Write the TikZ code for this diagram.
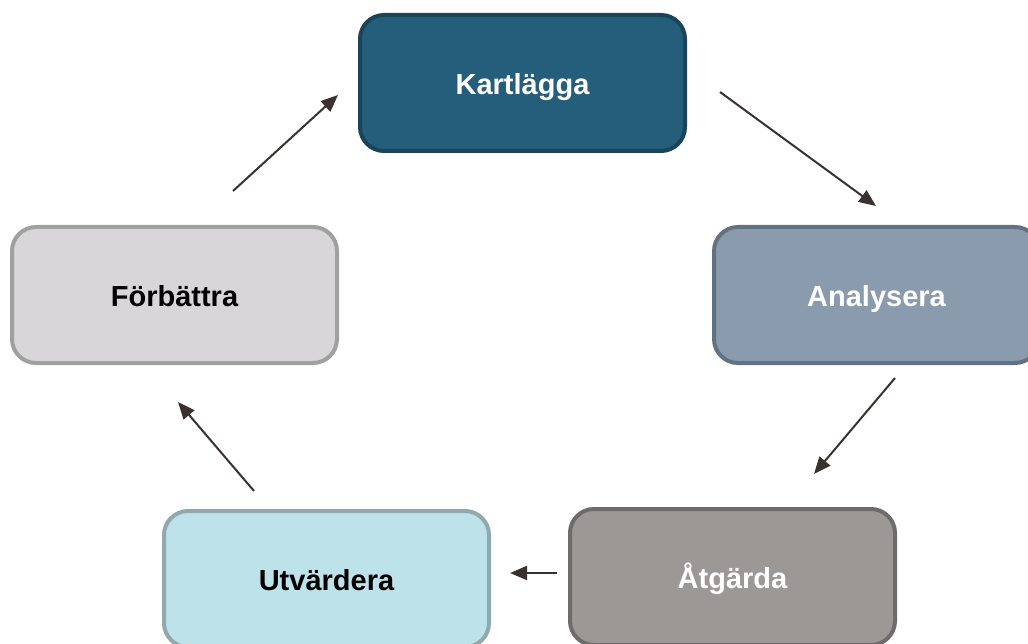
\documentclass[tikz,border=0pt]{standalone}
\usepackage{fontspec}
\setmainfont{Liberation Sans}
\usetikzlibrary{arrows.meta}
\definecolor{kfill}{HTML}{245E7A}
\definecolor{kline}{HTML}{1B4459}
\definecolor{afill}{HTML}{8A9BAD}
\definecolor{aline}{HTML}{637282}
\definecolor{gfill}{HTML}{9C9896}
\definecolor{gline}{HTML}{6F6B6B}
\definecolor{ufill}{HTML}{BEE2EA}
\definecolor{uline}{HTML}{8FA9AE}
\definecolor{ffill}{HTML}{D8D6D8}
\definecolor{fline}{HTML}{A0A0A0}
\definecolor{arrcol}{HTML}{3A3230}
\begin{document}
\begin{tikzpicture}[x=1pt,y=-1pt,
  stepbox/.style={rectangle, rounded corners=24pt, line width=4pt,
    minimum width=325pt, minimum height=136pt, inner sep=0pt,
    text height=23pt, text depth=0pt,
    font=\fontsize{29}{34}\selectfont\bfseries},
  arr/.style={draw=arrcol, line width=2pt, -{Triangle[length=17pt,width=14pt]}}]
\useasboundingbox (0,0) rectangle (1028,644);
\clip (0,0) rectangle (1028,644);
\fill[white] (0,0) rectangle (1028,644);
\node[stepbox, fill=kfill, draw=kline, text=white] (k) at (522.5,83) {Kartlägga};
\node[stepbox, fill=afill, draw=aline, text=white] (a) at (876.5,295) {Analysera};
\node[stepbox, fill=gfill, draw=gline, text=white] (g) at (732.5,577) {Åtgärda};
\node[stepbox, fill=ufill, draw=uline, text=black] (u) at (326.5,579) {Utvärdera};
\node[stepbox, fill=ffill, draw=fline, text=black] (f) at (174.5,295) {Förbättra};
\coordinate (a1s) at (720,92);  \coordinate (a1e) at (876,206);
\coordinate (a2s) at (895,378); \coordinate (a2e) at (814,474);
\coordinate (a3s) at (557,573); \coordinate (a3e) at (510,573);
\coordinate (a4s) at (254,491); \coordinate (a4e) at (178,402);
\coordinate (a5s) at (233,191); \coordinate (a5e) at (338,95);
\draw[arr] (a1s) -- (a1e);
\draw[arr] (a2s) -- (a2e);
\draw[arr] (a3s) -- (a3e);
\draw[arr] (a4s) -- (a4e);
\draw[arr] (a5s) -- (a5e);
\end{tikzpicture}
\end{document}
